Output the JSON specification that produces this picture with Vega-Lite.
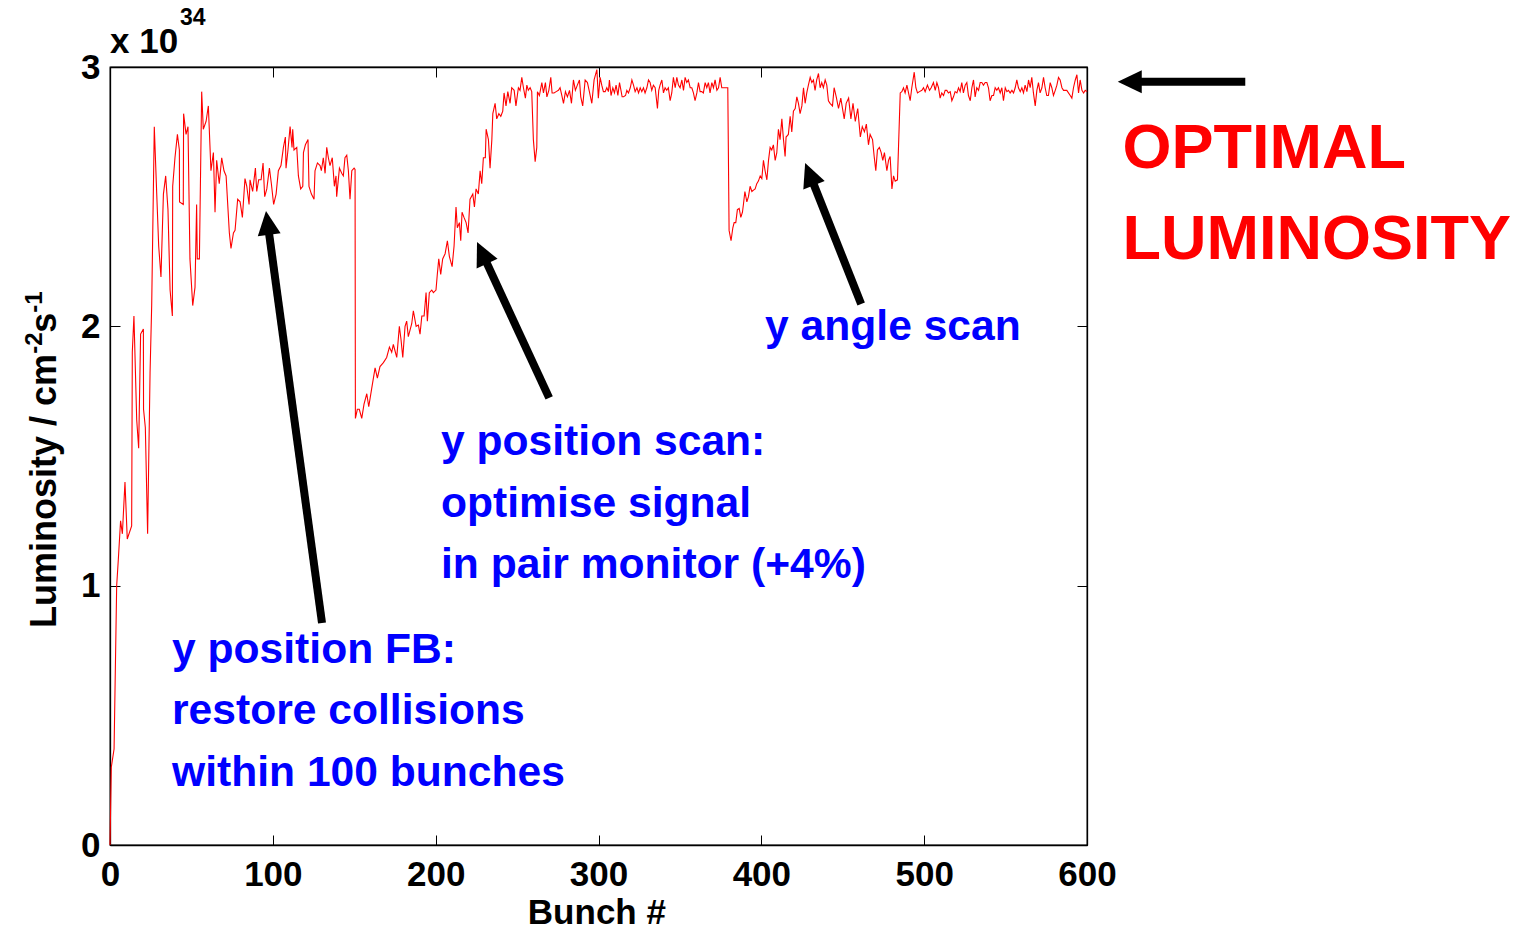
{
  "$schema": "https://vega.github.io/schema/vega-lite/v6.json",
  "width": 977,
  "height": 778,
  "autosize": {"type": "none"},
  "padding": {"left": 110, "top": 67, "right": 441, "bottom": 87},
  "background": "white",
  "config": {"view": {"stroke": "black", "strokeWidth": 1.3}, "font": "Liberation Sans"},
  "resolve": {"axis": {"x": "independent", "y": "independent"}},
  "datasets": {
    "lum": [
      {"b":0,"v":0},{"b":0.8,"v":0.30},{"b":2.5,"v":0.37},{"b":4.1,"v":1.00},{"b":5.1,"v":1.10},{"b":6.5,"v":1.25},{"b":7.6,"v":1.20},{"b":9.2,"v":1.40},{"b":10.6,"v":1.18},{"b":13.3,"v":1.23},{"b":13.7,"v":1.90},{"b":14.7,"v":2.04},{"b":16.4,"v":1.64},{"b":17.6,"v":1.53},{"b":18.8,"v":1.97},{"b":20.5,"v":1.99},{"b":20.6,"v":1.68},{"b":21.7,"v":1.61},{"b":23.1,"v":1.20},{"b":24.6,"v":1.82},{"b":25.6,"v":2.08},{"b":27.2,"v":2.77},{"b":28.7,"v":2.51},{"b":29.9,"v":2.31},{"b":31.3,"v":2.19},{"b":32.8,"v":2.51},{"b":34.2,"v":2.58},{"b":35.6,"v":2.45},{"b":36.9,"v":2.14},{"b":38.3,"v":2.04},{"b":38.5,"v":2.54},{"b":39.9,"v":2.65},{"b":41.4,"v":2.74},{"b":42.6,"v":2.68},{"b":42.7,"v":2.48},{"b":45.0,"v":2.47},{"b":45.2,"v":2.82},{"b":46.7,"v":2.74},{"b":47.9,"v":2.77},{"b":49.1,"v":2.26},{"b":50.8,"v":2.08},{"b":52.2,"v":2.15},{"b":53.2,"v":2.47},{"b":53.6,"v":2.26},{"b":54.9,"v":2.26},{"b":56.3,"v":2.905},{"b":57.3,"v":2.76},{"b":59.0,"v":2.79},{"b":60.4,"v":2.85},{"b":62.0,"v":2.60},{"b":63.5,"v":2.67},{"b":64.5,"v":2.44},{"b":65.5,"v":2.64},{"b":67.1,"v":2.55},{"b":68.6,"v":2.65},{"b":70.0,"v":2.60},{"b":71.3,"v":2.58},{"b":73.3,"v":2.36},{"b":74.3,"v":2.30},{"b":75.8,"v":2.36},{"b":76.8,"v":2.37},{"b":78.4,"v":2.49},{"b":79.9,"v":2.48},{"b":81.3,"v":2.42},{"b":82.9,"v":2.57},{"b":84.0,"v":2.54},{"b":85.4,"v":2.47},{"b":86.0,"v":2.565},{"b":87.6,"v":2.52},{"b":89.3,"v":2.61},{"b":90.1,"v":2.52},{"b":91.3,"v":2.565},{"b":92.8,"v":2.565},{"b":94.0,"v":2.63},{"b":95.0,"v":2.50},{"b":96.3,"v":2.53},{"b":97.9,"v":2.61},{"b":99.1,"v":2.55},{"b":100.5,"v":2.47},{"b":102.0,"v":2.51},{"b":103.4,"v":2.60},{"b":105.0,"v":2.62},{"b":106.5,"v":2.69},{"b":107.7,"v":2.73},{"b":108.1,"v":2.61},{"b":109.3,"v":2.68},{"b":110.6,"v":2.77},{"b":111.8,"v":2.69},{"b":112.2,"v":2.76},{"b":113.0,"v":2.68},{"b":114.7,"v":2.69},{"b":115.7,"v":2.58},{"b":117.1,"v":2.53},{"b":118.4,"v":2.54},{"b":118.8,"v":2.67},{"b":120.0,"v":2.70},{"b":121.6,"v":2.72},{"b":122.2,"v":2.54},{"b":123.7,"v":2.51},{"b":125.3,"v":2.49},{"b":125.9,"v":2.60},{"b":127.4,"v":2.63},{"b":129.0,"v":2.62},{"b":129.8,"v":2.60},{"b":131.0,"v":2.65},{"b":132.1,"v":2.59},{"b":133.1,"v":2.69},{"b":134.1,"v":2.65},{"b":135.1,"v":2.62},{"b":136.5,"v":2.65},{"b":137.8,"v":2.54},{"b":138.8,"v":2.58},{"b":139.2,"v":2.50},{"b":140.9,"v":2.61},{"b":142.3,"v":2.59},{"b":143.3,"v":2.58},{"b":144.3,"v":2.65},{"b":145.4,"v":2.66},{"b":146.4,"v":2.60},{"b":147.4,"v":2.49},{"b":148.5,"v":2.60},{"b":149.9,"v":2.61},{"b":150.5,"v":2.605},{"b":150.7,"v":1.645},{"b":151.9,"v":1.68},{"b":153.1,"v":1.68},{"b":154.6,"v":1.645},{"b":156.0,"v":1.70},{"b":157.7,"v":1.74},{"b":158.9,"v":1.69},{"b":160.7,"v":1.76},{"b":162.8,"v":1.84},{"b":164.2,"v":1.80},{"b":165.8,"v":1.845},{"b":167.9,"v":1.86},{"b":169.9,"v":1.88},{"b":171.6,"v":1.92},{"b":173.0,"v":1.90},{"b":174.0,"v":1.93},{"b":176.1,"v":1.88},{"b":177.7,"v":2.00},{"b":178.7,"v":1.95},{"b":179.8,"v":1.88},{"b":181.2,"v":2.00},{"b":182.2,"v":2.02},{"b":183.2,"v":1.96},{"b":185.3,"v":2.01},{"b":186.3,"v":2.06},{"b":188.0,"v":2.00},{"b":189.4,"v":2.005},{"b":190.4,"v":1.97},{"b":191.5,"v":2.04},{"b":192.9,"v":2.04},{"b":194.1,"v":2.13},{"b":194.9,"v":2.02},{"b":196.1,"v":2.13},{"b":197.6,"v":2.14},{"b":198.6,"v":2.13},{"b":200.2,"v":2.14},{"b":201.0,"v":2.20},{"b":201.9,"v":2.26},{"b":203.1,"v":2.20},{"b":204.3,"v":2.26},{"b":205.8,"v":2.28},{"b":207.2,"v":2.33},{"b":208.4,"v":2.27},{"b":210.1,"v":2.23},{"b":211.3,"v":2.31},{"b":212.5,"v":2.46},{"b":213.3,"v":2.38},{"b":214.6,"v":2.40},{"b":215.4,"v":2.33},{"b":216.2,"v":2.44},{"b":217.4,"v":2.42},{"b":218.7,"v":2.40},{"b":219.9,"v":2.36},{"b":221.1,"v":2.49},{"b":222.8,"v":2.51},{"b":223.8,"v":2.46},{"b":224.8,"v":2.53},{"b":226.2,"v":2.51},{"b":227.3,"v":2.60},{"b":228.3,"v":2.55},{"b":229.3,"v":2.65},{"b":230.5,"v":2.65},{"b":231.0,"v":2.76},{"b":232.4,"v":2.72},{"b":233.4,"v":2.61},{"b":234.5,"v":2.72},{"b":235.1,"v":2.82},{"b":236.5,"v":2.86},{"b":237.5,"v":2.80},{"b":238.8,"v":2.82},{"b":240.0,"v":2.81},{"b":241.2,"v":2.83},{"b":242.0,"v":2.90},{"b":243.2,"v":2.85},{"b":244.3,"v":2.905},{"b":245.7,"v":2.86},{"b":246.7,"v":2.92},{"b":248.2,"v":2.91},{"b":249.3,"v":2.85},{"b":250.8,"v":2.92},{"b":251.8,"v":2.91},{"b":252.9,"v":2.96},{"b":253.9,"v":2.92},{"b":255.1,"v":2.88},{"b":256.0,"v":2.93},{"b":256.9,"v":2.91},{"b":258.0,"v":2.92},{"b":259.0,"v":2.905},{"b":260.0,"v":2.72},{"b":261.1,"v":2.635},{"b":262.1,"v":2.69},{"b":262.5,"v":2.905},{"b":263.7,"v":2.89},{"b":265.2,"v":2.94},{"b":266.2,"v":2.90},{"b":267.4,"v":2.94},{"b":268.3,"v":2.885},{"b":269.5,"v":2.91},{"b":270.7,"v":2.96},{"b":271.5,"v":2.90},{"b":272.7,"v":2.90},{"b":274.0,"v":2.905},{"b":275.4,"v":2.91},{"b":276.4,"v":2.92},{"b":277.5,"v":2.89},{"b":278.5,"v":2.86},{"b":279.7,"v":2.905},{"b":280.9,"v":2.885},{"b":282.2,"v":2.91},{"b":283.4,"v":2.86},{"b":284.6,"v":2.95},{"b":285.8,"v":2.91},{"b":287.0,"v":2.93},{"b":288.3,"v":2.95},{"b":289.1,"v":2.885},{"b":290.3,"v":2.85},{"b":291.8,"v":2.95},{"b":293.2,"v":2.94},{"b":294.4,"v":2.905},{"b":295.9,"v":2.86},{"b":297.3,"v":2.95},{"b":299.0,"v":2.99},{"b":299.9,"v":2.88},{"b":301.0,"v":2.96},{"b":302.0,"v":2.93},{"b":303.0,"v":2.905},{"b":304.1,"v":2.905},{"b":305.1,"v":2.92},{"b":306.1,"v":2.905},{"b":306.7,"v":2.95},{"b":307.7,"v":2.89},{"b":308.8,"v":2.92},{"b":309.8,"v":2.90},{"b":310.8,"v":2.93},{"b":311.9,"v":2.89},{"b":312.9,"v":2.94},{"b":313.8,"v":2.91},{"b":314.5,"v":2.885},{"b":315.4,"v":2.885},{"b":316.6,"v":2.89},{"b":317.4,"v":2.91},{"b":318.4,"v":2.90},{"b":319.5,"v":2.92},{"b":320.5,"v":2.95},{"b":321.5,"v":2.93},{"b":322.5,"v":2.905},{"b":323.6,"v":2.92},{"b":324.6,"v":2.90},{"b":325.6,"v":2.92},{"b":326.6,"v":2.905},{"b":327.6,"v":2.92},{"b":328.6,"v":2.90},{"b":329.7,"v":2.92},{"b":330.7,"v":2.95},{"b":331.7,"v":2.94},{"b":332.7,"v":2.91},{"b":333.7,"v":2.93},{"b":334.8,"v":2.92},{"b":336.2,"v":2.84},{"b":337.0,"v":2.91},{"b":337.8,"v":2.93},{"b":338.9,"v":2.95},{"b":339.9,"v":2.90},{"b":340.9,"v":2.92},{"b":341.9,"v":2.91},{"b":342.9,"v":2.92},{"b":344.0,"v":2.87},{"b":345.0,"v":2.90},{"b":346.0,"v":2.96},{"b":347.1,"v":2.92},{"b":348.1,"v":2.96},{"b":349.1,"v":2.93},{"b":350.1,"v":2.92},{"b":351.2,"v":2.95},{"b":352.2,"v":2.91},{"b":353.2,"v":2.96},{"b":354.2,"v":2.94},{"b":355.2,"v":2.95},{"b":356.3,"v":2.92},{"b":357.3,"v":2.92},{"b":358.3,"v":2.90},{"b":359.3,"v":2.87},{"b":360.4,"v":2.90},{"b":361.4,"v":2.94},{"b":362.4,"v":2.905},{"b":363.4,"v":2.905},{"b":364.4,"v":2.90},{"b":365.5,"v":2.94},{"b":366.5,"v":2.92},{"b":367.5,"v":2.94},{"b":368.5,"v":2.90},{"b":369.6,"v":2.94},{"b":370.6,"v":2.92},{"b":371.6,"v":2.95},{"b":372.7,"v":2.91},{"b":373.7,"v":2.92},{"b":374.7,"v":2.96},{"b":375.7,"v":2.92},{"b":376.7,"v":2.92},{"b":377.8,"v":2.92},{"b":378.8,"v":2.92},{"b":379.4,"v":2.92},{"b":380.2,"v":2.37},{"b":381.4,"v":2.33},{"b":382.5,"v":2.38},{"b":383.3,"v":2.40},{"b":384.3,"v":2.40},{"b":385.3,"v":2.45},{"b":386.4,"v":2.455},{"b":387.4,"v":2.42},{"b":388.4,"v":2.44},{"b":389.0,"v":2.47},{"b":389.9,"v":2.52},{"b":391.1,"v":2.48},{"b":392.1,"v":2.50},{"b":393.1,"v":2.54},{"b":394.2,"v":2.52},{"b":395.2,"v":2.525},{"b":396.2,"v":2.53},{"b":397.2,"v":2.55},{"b":398.2,"v":2.56},{"b":399.3,"v":2.58},{"b":400.3,"v":2.57},{"b":401.3,"v":2.64},{"b":402.3,"v":2.60},{"b":403.4,"v":2.565},{"b":404.4,"v":2.64},{"b":405.4,"v":2.69},{"b":406.4,"v":2.68},{"b":407.4,"v":2.70},{"b":408.5,"v":2.64},{"b":409.5,"v":2.67},{"b":410.5,"v":2.76},{"b":411.5,"v":2.72},{"b":412.6,"v":2.80},{"b":413.6,"v":2.72},{"b":414.6,"v":2.655},{"b":415.2,"v":2.73},{"b":416.6,"v":2.74},{"b":417.7,"v":2.81},{"b":418.7,"v":2.75},{"b":419.7,"v":2.83},{"b":420.8,"v":2.84},{"b":421.8,"v":2.885},{"b":422.8,"v":2.86},{"b":423.8,"v":2.82},{"b":424.9,"v":2.85},{"b":425.9,"v":2.92},{"b":426.9,"v":2.86},{"b":427.9,"v":2.90},{"b":428.9,"v":2.93},{"b":430.0,"v":2.96},{"b":431.0,"v":2.94},{"b":432.0,"v":2.95},{"b":433.0,"v":2.91},{"b":434.0,"v":2.95},{"b":435.1,"v":2.975},{"b":436.1,"v":2.92},{"b":437.1,"v":2.94},{"b":438.1,"v":2.92},{"b":439.2,"v":2.95},{"b":440.2,"v":2.93},{"b":441.2,"v":2.87},{"b":442.2,"v":2.86},{"b":443.7,"v":2.85},{"b":444.7,"v":2.92},{"b":446.0,"v":2.885},{"b":447.4,"v":2.84},{"b":448.8,"v":2.88},{"b":450.9,"v":2.80},{"b":452.1,"v":2.86},{"b":453.6,"v":2.88},{"b":455.0,"v":2.80},{"b":456.3,"v":2.86},{"b":457.7,"v":2.79},{"b":459.2,"v":2.84},{"b":460.8,"v":2.73},{"b":462.0,"v":2.77},{"b":463.3,"v":2.75},{"b":464.5,"v":2.78},{"b":465.8,"v":2.70},{"b":466.8,"v":2.74},{"b":468.3,"v":2.72},{"b":469.3,"v":2.655},{"b":470.3,"v":2.60},{"b":471.3,"v":2.68},{"b":472.5,"v":2.69},{"b":473.6,"v":2.67},{"b":474.6,"v":2.64},{"b":475.6,"v":2.67},{"b":477.1,"v":2.60},{"b":478.1,"v":2.64},{"b":479.1,"v":2.655},{"b":480.2,"v":2.53},{"b":481.2,"v":2.58},{"b":482.2,"v":2.56},{"b":483.6,"v":2.565},{"b":485.3,"v":2.90},{"b":486.3,"v":2.905},{"b":487.3,"v":2.92},{"b":488.3,"v":2.90},{"b":489.4,"v":2.93},{"b":490.4,"v":2.90},{"b":491.4,"v":2.87},{"b":492.4,"v":2.92},{"b":493.9,"v":2.98},{"b":494.9,"v":2.92},{"b":495.9,"v":2.90},{"b":497.1,"v":2.905},{"b":498.6,"v":2.91},{"b":499.6,"v":2.92},{"b":500.6,"v":2.905},{"b":502.0,"v":2.93},{"b":503.3,"v":2.91},{"b":504.3,"v":2.92},{"b":505.7,"v":2.94},{"b":506.8,"v":2.91},{"b":507.8,"v":2.94},{"b":508.8,"v":2.92},{"b":509.8,"v":2.88},{"b":510.8,"v":2.90},{"b":511.9,"v":2.89},{"b":512.9,"v":2.91},{"b":513.9,"v":2.91},{"b":514.9,"v":2.90},{"b":516.0,"v":2.905},{"b":517.0,"v":2.87},{"b":518.0,"v":2.885},{"b":519.0,"v":2.905},{"b":520.1,"v":2.90},{"b":521.1,"v":2.92},{"b":522.1,"v":2.905},{"b":523.1,"v":2.94},{"b":524.1,"v":2.90},{"b":525.2,"v":2.93},{"b":526.2,"v":2.94},{"b":527.2,"v":2.89},{"b":528.3,"v":2.87},{"b":529.3,"v":2.92},{"b":530.3,"v":2.95},{"b":531.3,"v":2.885},{"b":532.3,"v":2.92},{"b":533.4,"v":2.91},{"b":534.4,"v":2.94},{"b":535.4,"v":2.94},{"b":536.4,"v":2.93},{"b":537.5,"v":2.94},{"b":538.5,"v":2.94},{"b":539.5,"v":2.92},{"b":540.5,"v":2.87},{"b":541.6,"v":2.89},{"b":542.6,"v":2.89},{"b":543.6,"v":2.92},{"b":544.6,"v":2.91},{"b":545.6,"v":2.92},{"b":546.7,"v":2.90},{"b":547.7,"v":2.92},{"b":548.7,"v":2.87},{"b":549.8,"v":2.92},{"b":550.8,"v":2.905},{"b":551.8,"v":2.91},{"b":552.8,"v":2.90},{"b":553.9,"v":2.91},{"b":554.9,"v":2.90},{"b":555.9,"v":2.92},{"b":556.9,"v":2.95},{"b":557.9,"v":2.92},{"b":559.0,"v":2.905},{"b":560.0,"v":2.92},{"b":561.0,"v":2.90},{"b":562.0,"v":2.93},{"b":563.1,"v":2.905},{"b":564.1,"v":2.95},{"b":565.1,"v":2.92},{"b":566.1,"v":2.96},{"b":567.1,"v":2.90},{"b":568.2,"v":2.85},{"b":569.2,"v":2.91},{"b":570.2,"v":2.94},{"b":571.2,"v":2.90},{"b":572.3,"v":2.92},{"b":573.3,"v":2.96},{"b":574.3,"v":2.92},{"b":575.3,"v":2.89},{"b":576.3,"v":2.89},{"b":577.4,"v":2.94},{"b":578.4,"v":2.92},{"b":579.4,"v":2.89},{"b":580.5,"v":2.91},{"b":581.5,"v":2.93},{"b":582.5,"v":2.96},{"b":583.5,"v":2.95},{"b":584.6,"v":2.92},{"b":585.6,"v":2.91},{"b":587.6,"v":2.91},{"b":589.7,"v":2.89},{"b":590.7,"v":2.88},{"b":591.7,"v":2.92},{"b":592.8,"v":2.95},{"b":593.8,"v":2.97},{"b":594.8,"v":2.90},{"b":595.8,"v":2.95},{"b":596.9,"v":2.91},{"b":597.9,"v":2.90},{"b":598.9,"v":2.91},{"b":600,"v":2.905}
    ],
    "arrows": [
      {"x":130.2,"y":0.856,"x2":97.3,"y2":2.376,"tx":95.8,"ty":2.445,"ang":352.3},
      {"x":269.7,"y":1.724,"x2":230.0,"y2":2.263,"tx":225.4,"ty":2.3255,"ang":335.2},
      {"x":461.3,"y":2.086,"x2":431.0,"y2":2.566,"tx":426.9,"ty":2.630,"ang":338.3},
      {"x":697.2,"y":2.943,"x2":630.2,"y2":2.943,"tx":618.9,"ty":2.943,"ang":270}
    ],
    "blue": [
      {"t":"y angle scan","x":402.3,"y":1.948},
      {"t":"y position scan:","x":203.3,"y":1.504},
      {"t":"optimise signal","x":203.3,"y":1.265},
      {"t":"in pair monitor (+4%)","x":203.3,"y":1.030},
      {"t":"y position FB:","x":38.1,"y":0.702},
      {"t":"restore collisions","x":38.1,"y":0.467},
      {"t":"within 100 bunches","x":38.1,"y":0.2275}
    ],
    "red": [
      {"t":"OPTIMAL","x":621.8,"y":2.611},
      {"t":"LUMINOSITY","x":621.8,"y":2.260}
    ]
  },
  "layer": [
    {
      "data": {"name": "lum"},
      "mark": {"type": "line", "color": "#ff0000", "strokeWidth": 1.1, "clip": false},
      "encoding": {
        "x": {"field": "b", "type": "quantitative", "scale": {"domain": [0, 600], "nice": false, "zero": false},
          "axis": {"orient": "bottom", "values": [0,100,200,300,400,500,600], "format": "d", "title": null, "grid": false, "tickSize": -10, "tickColor": "black", "tickWidth": 1, "domainColor": "black", "domainWidth": 1.3, "labelFont": "Liberation Sans", "labelFontSize": 35, "labelFontWeight": "bold", "labelColor": "black", "labelPadding": 22, "labelFlush": false, "labelOverlap": false, "labelBound": false}},
        "y": {"field": "v", "type": "quantitative", "scale": {"domain": [0, 3], "nice": false, "zero": false},
          "axis": {"orient": "left", "values": [0,1,2,3], "format": "d", "title": null, "grid": false, "tickSize": -10, "tickColor": "black", "tickWidth": 1, "domainColor": "black", "domainWidth": 1.3, "labelFont": "Liberation Sans", "labelFontSize": 35, "labelFontWeight": "bold", "labelColor": "black", "labelPadding": 20, "labelFlush": false, "labelOverlap": false, "labelBound": false}}
      }
    },
    {
      "data": {"name": "arrows"},
      "mark": {"type": "rule", "color": "black", "strokeWidth": 8, "strokeCap": "butt", "clip": false},
      "encoding": {
        "x": {"field": "x", "type": "quantitative", "scale": {"domain": [0, 600], "nice": false, "zero": false},
          "axis": {"orient": "top", "values": [0,100,200,300,400,500,600], "labels": false, "title": null, "grid": false, "tickSize": -10, "tickColor": "black", "tickWidth": 1, "domainColor": "black", "domainWidth": 1.3}},
        "y": {"field": "y", "type": "quantitative", "scale": {"domain": [0, 3], "nice": false, "zero": false},
          "axis": {"orient": "right", "values": [0,1,2,3], "labels": false, "title": null, "grid": false, "tickSize": -10, "tickColor": "black", "tickWidth": 1, "domainColor": "black", "domainWidth": 1.3}},
        "x2": {"field": "x2"},
        "y2": {"field": "y2"}
      }
    },
    {
      "data": {"name": "arrows"},
      "mark": {"type": "point", "shape": "M0,0 L0.48,1 L-0.48,1 Z", "size": 2304, "filled": true, "color": "black", "opacity": 1, "strokeWidth": 0, "clip": false},
      "encoding": {
        "x": {"field": "tx", "type": "quantitative", "scale": {"domain": [0, 600], "nice": false, "zero": false}, "axis": null},
        "y": {"field": "ty", "type": "quantitative", "scale": {"domain": [0, 3], "nice": false, "zero": false}, "axis": null},
        "angle": {"field": "ang", "type": "quantitative", "scale": null}
      }
    },
    {
      "data": {"name": "blue"},
      "mark": {"type": "text", "align": "left", "baseline": "alphabetic", "font": "Liberation Sans", "fontWeight": "bold", "fontSize": 42.6, "color": "#0000ff", "clip": false},
      "encoding": {
        "x": {"field": "x", "type": "quantitative", "scale": {"domain": [0, 600], "nice": false, "zero": false}, "axis": null},
        "y": {"field": "y", "type": "quantitative", "scale": {"domain": [0, 3], "nice": false, "zero": false}, "axis": null},
        "text": {"field": "t"}
      }
    },
    {
      "data": {"name": "red"},
      "mark": {"type": "text", "align": "left", "baseline": "alphabetic", "font": "Liberation Sans", "fontWeight": "bold", "fontSize": 63, "color": "#ff0000", "clip": false},
      "encoding": {
        "x": {"field": "x", "type": "quantitative", "scale": {"domain": [0, 600], "nice": false, "zero": false}, "axis": null},
        "y": {"field": "y", "type": "quantitative", "scale": {"domain": [0, 3], "nice": false, "zero": false}, "axis": null},
        "text": {"field": "t"}
      }
    },
    {
      "data": {"values": [{"t": "x 10", "x": 0, "y": 3.053}]},
      "mark": {"type": "text", "align": "left", "baseline": "alphabetic", "font": "Liberation Sans", "fontWeight": "bold", "fontSize": 35, "color": "black", "clip": false},
      "encoding": {
        "x": {"field": "x", "type": "quantitative", "scale": {"domain": [0, 600], "nice": false, "zero": false}, "axis": null},
        "y": {"field": "y", "type": "quantitative", "scale": {"domain": [0, 3], "nice": false, "zero": false}, "axis": null},
        "text": {"field": "t"}
      }
    },
    {
      "data": {"values": [{"t": "34", "x": 43.0, "y": 3.162}]},
      "mark": {"type": "text", "align": "left", "baseline": "alphabetic", "font": "Liberation Sans", "fontWeight": "bold", "fontSize": 23, "color": "black", "clip": false},
      "encoding": {
        "x": {"field": "x", "type": "quantitative", "scale": {"domain": [0, 600], "nice": false, "zero": false}, "axis": null},
        "y": {"field": "y", "type": "quantitative", "scale": {"domain": [0, 3], "nice": false, "zero": false}, "axis": null},
        "text": {"field": "t"}
      }
    },
    {
      "data": {"values": [{"t": "Bunch #", "x": 299.0, "y": -0.306}]},
      "mark": {"type": "text", "align": "center", "baseline": "alphabetic", "font": "Liberation Sans", "fontWeight": "bold", "fontSize": 35, "color": "black", "clip": false},
      "encoding": {
        "x": {"field": "x", "type": "quantitative", "scale": {"domain": [0, 600], "nice": false, "zero": false}, "axis": null},
        "y": {"field": "y", "type": "quantitative", "scale": {"domain": [0, 3], "nice": false, "zero": false}, "axis": null},
        "text": {"field": "t"}
      }
    },
    {
      "data": {"values": [{"t": "Luminosity / cm", "x": -33.17, "y": 0.837}, {"t": "s", "x": -33.17, "y": 1.975}]},
      "mark": {"type": "text", "align": "left", "baseline": "alphabetic", "angle": 270, "font": "Liberation Sans", "fontWeight": "bold", "fontSize": 36, "color": "black", "clip": false},
      "encoding": {
        "x": {"field": "x", "type": "quantitative", "scale": {"domain": [0, 600], "nice": false, "zero": false}, "axis": null},
        "y": {"field": "y", "type": "quantitative", "scale": {"domain": [0, 3], "nice": false, "zero": false}, "axis": null},
        "text": {"field": "t"}
      }
    },
    {
      "data": {"values": [{"t": "-2", "x": -41.8, "y": 1.894}, {"t": "-1", "x": -41.8, "y": 2.052}]},
      "mark": {"type": "text", "align": "left", "baseline": "alphabetic", "angle": 270, "font": "Liberation Sans", "fontWeight": "bold", "fontSize": 24, "color": "black", "clip": false},
      "encoding": {
        "x": {"field": "x", "type": "quantitative", "scale": {"domain": [0, 600], "nice": false, "zero": false}, "axis": null},
        "y": {"field": "y", "type": "quantitative", "scale": {"domain": [0, 3], "nice": false, "zero": false}, "axis": null},
        "text": {"field": "t"}
      }
    }
  ]
}
